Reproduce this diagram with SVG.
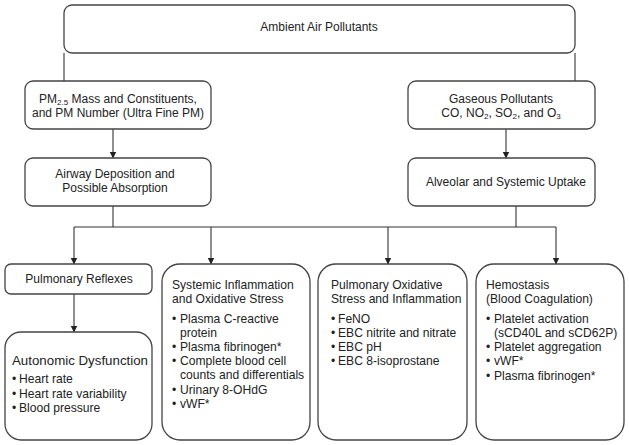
<svg xmlns="http://www.w3.org/2000/svg" width="629" height="445" viewBox="0 0 629 445">
<style>
.box{fill:#fff;stroke:#444;stroke-width:1.3}
.ln{fill:none;stroke:#333;stroke-width:1.1}
text{font-family:"Liberation Sans",Arial,sans-serif;fill:#222;font-size:12px}
.c{text-anchor:middle}
.b{font-size:12.1px}
.sub{font-size:8px}
</style>
<defs>
<marker id="ah" markerWidth="7" markerHeight="8" refX="6.5" refY="3.5" orient="auto" markerUnits="userSpaceOnUse">
<path d="M0,0 L7,3.5 L0,7 Z" fill="#222"/>
</marker>
</defs>
<rect width="629" height="445" fill="#fff"/>
<g id="connectors">
<path class="ln" d="M64,53 V81"/>
<path class="ln" d="M575,53 V81"/>
<path class="ln" d="M113,129 V158" marker-end="url(#ah)"/>
<path class="ln" d="M506,129 V158" marker-end="url(#ah)"/>
<path class="ln" d="M113,206 V227"/>
<path class="ln" d="M516,206 V227"/>
<path class="ln" d="M74,227 H556"/>
<path class="ln" d="M74,227 V264" marker-end="url(#ah)"/>
<path class="ln" d="M211,227 V264" marker-end="url(#ah)"/>
<path class="ln" d="M388,227 V264" marker-end="url(#ah)"/>
<path class="ln" d="M556,227 V264" marker-end="url(#ah)"/>
<path class="ln" d="M74,294 V332" marker-end="url(#ah)"/>
</g>
<g id="ambient">
<rect class="box" x="64" y="5" width="511" height="48" rx="8"/>
<text class="c" x="319" y="31">Ambient Air Pollutants</text>
</g>
<g id="pm">
<rect class="box" x="25" y="81" width="186" height="48" rx="8"/>
<text class="c" x="118" y="103">PM<tspan class="sub" dy="2">2.5</tspan><tspan dy="-2"> Mass and Constituents,</tspan></text>
<text class="c" x="118" y="117">and PM Number (Ultra Fine PM)</text>
</g>
<g id="gaseous">
<rect class="box" x="408" y="81" width="187" height="48" rx="8"/>
<text class="c" x="501" y="103">Gaseous Pollutants</text>
<text class="c" x="501" y="117">CO, NO<tspan class="sub" dy="2">2</tspan><tspan dy="-2">, SO</tspan><tspan class="sub" dy="2">2</tspan><tspan dy="-2">, and O</tspan><tspan class="sub" dy="2">3</tspan></text>
</g>
<g id="airway">
<rect class="box" x="25" y="158" width="186" height="48" rx="8"/>
<text class="c" x="115" y="178">Airway Deposition and</text>
<text class="c" x="115" y="192">Possible Absorption</text>
</g>
<g id="alveolar">
<rect class="box" x="408" y="158" width="187" height="48" rx="8"/>
<text class="c" x="506" y="186">Alveolar and Systemic Uptake</text>
</g>
<g id="reflexes">
<rect class="box" x="5" y="264" width="147" height="30" rx="6"/>
<text class="c" x="79" y="283">Pulmonary Reflexes</text>
</g>
<g id="autonomic">
<rect class="box" x="5" y="332" width="147" height="108" rx="16"/>
<text x="12" y="365" style="font-size:13.3px">Autonomic Dysfunction</text>
<text class="b" x="12" y="383">•</text><text class="b" x="19" y="383">Heart rate</text>
<text class="b" x="12" y="398">•</text><text class="b" x="19" y="398">Heart rate variability</text>
<text class="b" x="12" y="412">•</text><text class="b" x="19" y="412">Blood pressure</text>
</g>
<g id="systemic">
<rect class="box" x="162" y="264" width="148" height="176" rx="18"/>
<text class="b" x="172" y="289">Systemic Inflammation</text>
<text class="b" x="172" y="303">and Oxidative Stress</text>
<text class="b" x="172" y="323">•</text><text class="b" x="180" y="323">Plasma C-reactive</text>
<text class="b" x="180" y="337">protein</text>
<text class="b" x="172" y="351">•</text><text class="b" x="180" y="351">Plasma fibrinogen*</text>
<text class="b" x="172" y="365">•</text><text class="b" x="180" y="365">Complete blood cell</text>
<text class="b" x="180" y="379">counts and differentials</text>
<text class="b" x="172" y="394">•</text><text class="b" x="180" y="394">Urinary 8-OHdG</text>
<text class="b" x="172" y="408">•</text><text class="b" x="180" y="408">vWF*</text>
</g>
<g id="pulmonary-oxidative">
<rect class="box" x="318" y="264" width="149" height="176" rx="18"/>
<text class="b" x="331" y="289">Pulmonary Oxidative</text>
<text class="b" x="331" y="303">Stress and Inflammation</text>
<text class="b" x="331" y="323">•</text><text class="b" x="338" y="323">FeNO</text>
<text class="b" x="331" y="337">•</text><text class="b" x="338" y="337">EBC nitrite and nitrate</text>
<text class="b" x="331" y="351">•</text><text class="b" x="338" y="351">EBC pH</text>
<text class="b" x="331" y="365">•</text><text class="b" x="338" y="365">EBC 8-isoprostane</text>
</g>
<g id="hemostasis">
<rect class="box" x="476" y="264" width="148" height="176" rx="18"/>
<text class="b" x="486" y="289">Hemostasis</text>
<text class="b" x="486" y="303">(Blood Coagulation)</text>
<text class="b" x="486" y="323">•</text><text class="b" x="494" y="323">Platelet activation</text>
<text class="b" x="494" y="337">(sCD40L and sCD62P)</text>
<text class="b" x="486" y="351">•</text><text class="b" x="494" y="351">Platelet aggregation</text>
<text class="b" x="486" y="365">•</text><text class="b" x="494" y="365">vWF*</text>
<text class="b" x="486" y="380">•</text><text class="b" x="494" y="380">Plasma fibrinogen*</text>
</g>
</svg>
